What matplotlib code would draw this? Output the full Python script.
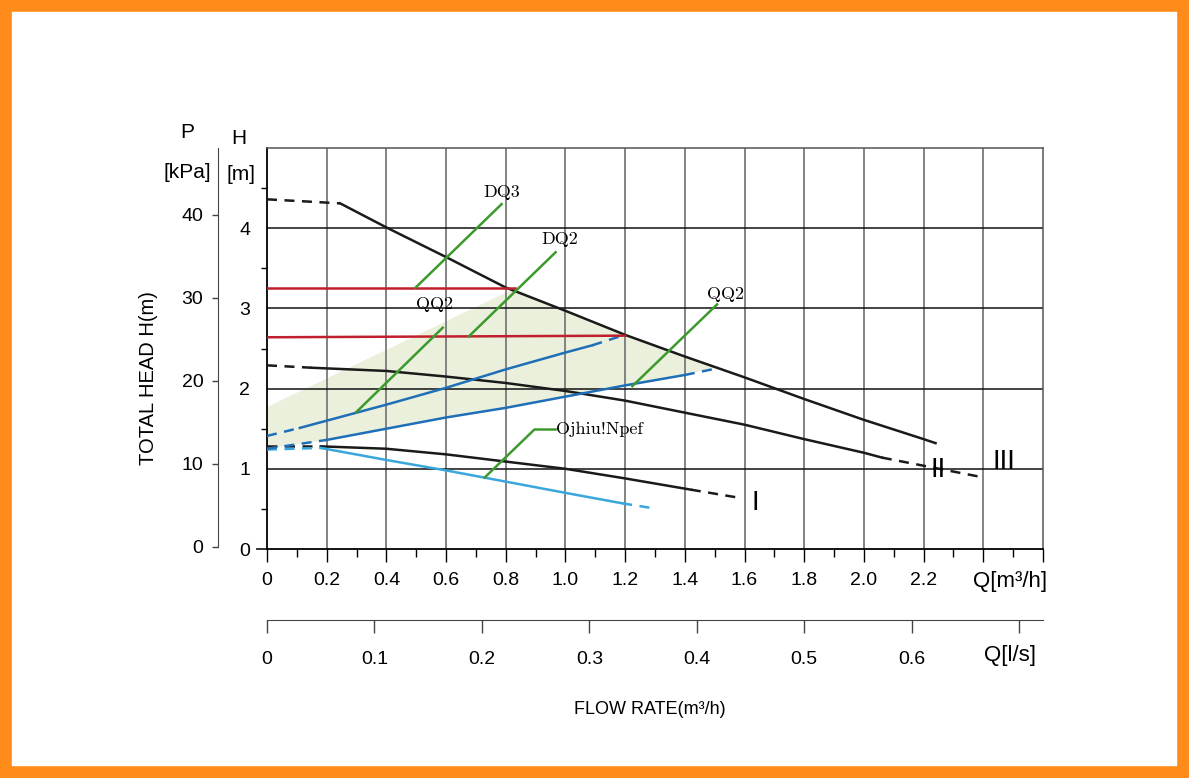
import numpy as np
import matplotlib.pyplot as plt
from matplotlib.patches import Rectangle, Polygon

W, H = 1189, 778
def px(x):
    return x / W
def py(y):
    return 1 - y / H

NARROW = ['Liberation Sans Narrow', 'Liberation Sans', 'DejaVu Sans']
ARIAL = ['Liberation Sans', 'DejaVu Sans']
SERIF = ['cmr10', 'DejaVu Serif']

# Q in m3/h, H in m
q3_dash = [0, 0.245]
h3_dash = [4.36, 4.31]
q3 = [0.245, 0.405, 0.60, 0.80, 1.0, 1.2, 1.4, 1.6, 1.8, 2.0, 2.2, 2.24]
h3 = [4.31, 4.0, 3.64, 3.26, 2.97, 2.67, 2.40, 2.14, 1.87, 1.61, 1.37, 1.32]

q2_dash1 = [0, 0.15]
h2_dash1 = [2.29, 2.26]
q2 = [0.15, 0.4, 0.6, 0.8, 1.0, 1.2, 1.4, 1.6, 1.8, 2.0, 2.06]
h2 = [2.26, 2.22, 2.15, 2.07, 1.97, 1.85, 1.70, 1.55, 1.37, 1.20, 1.14]
q2_dash2 = [2.06, 2.39]
h2_dash2 = [1.14, 0.90]

q1_dash1 = [0, 0.18]
h1_dash1 = [1.28, 1.28]
q1 = [0.18, 0.4, 0.6, 0.8, 1.0, 1.2, 1.42]
h1 = [1.28, 1.25, 1.18, 1.09, 1.0, 0.88, 0.74]
q1_dash2 = [1.42, 1.58]
h1_dash2 = [0.74, 0.64]

# night mode curve
qn_dash1 = [0, 0.18]
hn_dash1 = [1.24, 1.26]
qn = [0.18, 0.4, 0.6, 0.8, 1.0, 1.19]
hn = [1.26, 1.11, 0.98, 0.84, 0.70, 0.57]
qn_dash2 = [1.19, 1.29]
hn_dash2 = [0.57, 0.51]

# proportional pressure curves (QQ2)
qa_dash1 = [0, 0.11]
ha_dash1 = [1.41, 1.51]
qa = [0.11, 0.4, 0.6, 0.8, 1.0, 1.09]
ha = [1.51, 1.80, 2.01, 2.24, 2.45, 2.54]
qa_dash2 = [1.09, 1.19]
ha_dash2 = [2.54, 2.66]

qb_dash1 = [0, 0.2]
hb_dash1 = [1.25, 1.36]
qb = [0.2, 0.4, 0.6, 0.8, 1.0, 1.2, 1.4]
hb = [1.36, 1.50, 1.64, 1.76, 1.90, 2.04, 2.17]
qb_dash2 = [1.4, 1.505]
hb_dash2 = [2.17, 2.25]

# constant pressure lines (DQ)
q_red1 = [0, 0.83]
h_red1 = [3.25, 3.25]
q_red2 = [0, 1.2]
h_red2 = [2.64, 2.66]

shade_top_q = [0, 0.83]
shade_top_h = [1.77, 3.25]

# leader lines and labels
leaders = [
    ([0.498, 0.786], [3.26, 4.30], 'DQ3', 0.786, 4.45, 'center'),
    ([0.676, 0.967], [2.65, 3.70], 'DQ2', 0.98, 3.86, 'center'),
    ([0.300, 0.589], [1.71, 2.76], 'QQ2', 0.562, 3.05, 'center'),
    ([1.224, 1.508], [2.03, 3.05], 'QQ2', 1.535, 3.17, 'center'),
    ([0.729, 0.896, 0.967], [0.89, 1.49, 1.49], 'Ojhiu!Npef', 0.967, 1.49, 'left'),
]

roman = [('I', 1.635, 0.575), ('II', 2.25, 0.99), ('III', 2.47, 1.09)]

x_ticks = np.round(np.arange(0, 2.61, 0.2), 2)
x_labels = ['0', '0.2', '0.4', '0.6', '0.8', '1.0', '1.2', '1.4', '1.6', '1.8', '2.0', '2.2', '', '']
ls_ticks = [0, 0.1, 0.2, 0.3, 0.4, 0.5, 0.6, 0.7]
ls_labels = ['0', '0.1', '0.2', '0.3', '0.4', '0.5', '0.6', '']
h_ticks = [0, 1, 2, 3, 4]
p_ticks = [0, 10, 20, 30, 40]

fig = plt.figure(figsize=(W / 100, H / 100), dpi=100)
fig.patches.append(Rectangle((0, 0), 1, 1, transform=fig.transFigure, fill=False,
                             edgecolor='#ff8c1a', linewidth=17, zorder=10))

ax = fig.add_axes([px(267), py(549), px(1043) - px(267), py(148) - py(549)])
ax.set_xlim(0, 2.6)
ax.set_ylim(0, 5)

# grid
for x in x_ticks[1:-1]:
    ax.axvline(x, color='#7a7a7a', lw=1.3, zorder=1)
for y in h_ticks[1:]:
    ax.axhline(y, color='#111111', lw=1.1, zorder=1)
ax.plot([-0.035, 0], [0, 0], color='#222222', lw=1.3, clip_on=False)

# shaded working range
q_edge = [q for q in q3 if 0.83 < q < 1.505]
poly_q = shade_top_q + q_edge + [1.505] + qb[::-1] + qb_dash1[::-1]
poly_h = (shade_top_h + list(np.interp(q_edge, q3, h3)) + [float(np.interp(1.505, q3, h3))]
          + hb[::-1] + hb_dash1[::-1])
ax.add_patch(Polygon(np.column_stack([poly_q, poly_h]), closed=True,
                     facecolor='#ebf0dc', edgecolor='none', zorder=0.5))

blk, blue, lblue, red, green = '#1a1a1a', '#1f6fb8', '#3aa7dc', '#c0202e', '#3c9a2c'
dash = (0, (4, 3))

def curve(qd1, hd1, q, h, qd2, hd2, color):
    if qd1:
        ax.plot(qd1, hd1, color=color, lw=1.8, ls=dash, zorder=3)
    ax.plot(q, h, color=color, lw=1.8, zorder=3)
    if qd2:
        ax.plot(qd2, hd2, color=color, lw=1.8, ls=dash, zorder=3)

curve(q3_dash, h3_dash, q3, h3, None, None, blk)
curve(q2_dash1, h2_dash1, q2, h2, q2_dash2, h2_dash2, blk)
curve(q1_dash1, h1_dash1, q1, h1, q1_dash2, h1_dash2, blk)
curve(qn_dash1, hn_dash1, qn, hn, qn_dash2, hn_dash2, lblue)
curve(qa_dash1, ha_dash1, qa, ha, qa_dash2, ha_dash2, blue)
curve(qb_dash1, hb_dash1, qb, hb, qb_dash2, hb_dash2, blue)
ax.plot(q_red1, h_red1, color=red, lw=1.8, zorder=3)
ax.plot(q_red2, h_red2, color=red, lw=1.8, zorder=3)

for lq, lh, txt, tq, th, ha_ in leaders:
    ax.plot(lq, lh, color=green, lw=1.8, zorder=4)
    ax.text(tq, th, txt, ha=ha_, va='center', fontsize=13, family=SERIF, zorder=5)

for txt, tq, th in roman:
    ax.text(tq, th, txt, ha='center', va='center', fontsize=20, family=NARROW, zorder=5)

# axes styling
for s in ['top', 'right']:
    ax.spines[s].set_color('#555555')
    ax.spines[s].set_linewidth(1.1)
ax.spines['left'].set_linewidth(1.3)
ax.spines['bottom'].set_linewidth(1.3)
ax.set_xticks(x_ticks)
ax.set_xticklabels(x_labels, family=NARROW, fontsize=14)
ax.set_xticks(np.arange(0.1, 2.6, 0.2), minor=True)
ax.tick_params(axis='x', which='major', direction='out', length=9.5, width=1, pad=7)
ax.tick_params(axis='x', which='minor', direction='out', length=5.5, width=1)
ax.set_yticks(h_ticks)
ax.set_yticklabels([str(t) for t in h_ticks], family=ARIAL, fontsize=14)
ax.set_yticks(np.arange(0.5, 5, 1.0), minor=True)
ax.tick_params(axis='y', which='major', length=0, pad=12)
ax.tick_params(axis='y', which='minor', direction='out', length=4, width=1)

# pressure axis
axp = fig.add_axes([px(218), py(549), 0.0005, py(148) - py(549)])
axp.set_ylim(-0.241, 48.07)
axp.patch.set_visible(False)
for s in ['top', 'right', 'bottom']:
    axp.spines[s].set_visible(False)
axp.spines['left'].set_bounds(0, 48.07)
axp.spines['left'].set_color('#444444')
axp.set_xticks([])
axp.set_yticks(p_ticks)
axp.set_yticklabels([str(t) for t in p_ticks], family=ARIAL, fontsize=14)
axp.tick_params(axis='y', direction='out', length=4.5, width=1, pad=6, color='#444444')

# flow axis in l/s
axq = fig.add_axes([px(267), py(620), px(1043) - px(267), 0.0005])
axq.set_xlim(0, 2.6 / 3.6)
axq.patch.set_visible(False)
for s in ['top', 'right', 'left']:
    axq.spines[s].set_visible(False)
axq.spines['bottom'].set_color('#444444')
axq.set_yticks([])
axq.set_xticks(ls_ticks)
axq.set_xticklabels(ls_labels, family=NARROW, fontsize=14)
axq.tick_params(axis='x', direction='out', length=9, width=1, pad=13, color='#444444')

fig.text(px(187), py(133), 'P', ha='center', va='center', fontsize=15, family=ARIAL)
fig.text(px(187), py(172), '[kPa]', ha='center', va='center', fontsize=15, family=ARIAL)
fig.text(px(239), py(138), 'H', ha='center', va='center', fontsize=15, family=ARIAL)
fig.text(px(241), py(174), '[m]', ha='center', va='center', fontsize=15, family=ARIAL)
fig.text(px(148), py(378), 'TOTAL HEAD H(m)', rotation=90, ha='center', va='center',
         fontsize=14.5, family=ARIAL)
fig.text(px(1010), py(582), 'Q[m³/h]', ha='center', va='center', fontsize=16, family=NARROW)
fig.text(px(1010), py(656), 'Q[l/s]', ha='center', va='center', fontsize=16, family=NARROW)
fig.text(px(650), py(710), 'FLOW RATE(m³/h)', ha='center', va='center', fontsize=13, family=NARROW)

fig.savefig('out.png', dpi=100)
